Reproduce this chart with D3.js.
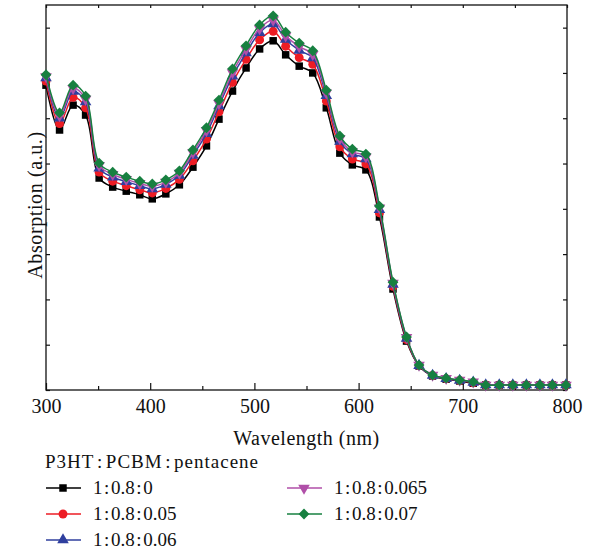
<!DOCTYPE html>
<html>
<head>
<meta charset="utf-8">
<script src="https://cdn.jsdelivr.net/npm/d3@7"></script>
<style>
  body { margin: 0; background: #fff; }
  svg { display: block; }
  text { font-family: "Liberation Serif", "DejaVu Serif", serif; fill: #111; }
</style>
</head>
<body>
<div id="chart"></div>
<script>
const wavelength = [300, 313, 326, 338, 351, 364, 377, 390, 402, 415, 428, 441, 454, 466, 479, 492, 505, 518, 530, 543,
  556, 569, 582, 594, 607, 620, 633, 646, 658, 671, 684, 697, 710, 722, 735, 748, 761, 774, 786, 799];

const s0 = [0.673, 0.574, 0.629, 0.607, 0.468, 0.448, 0.439, 0.431, 0.422, 0.433, 0.453, 0.492, 0.539, 0.598, 0.660, 0.711, 0.753, 0.771, 0.740, 0.715,
  0.700, 0.623, 0.523, 0.497, 0.486, 0.382, 0.223, 0.108, 0.053, 0.031, 0.024, 0.020, 0.015, 0.011, 0.011, 0.011, 0.011, 0.011, 0.011, 0.011];
const s005 = [0.682, 0.588, 0.646, 0.623, 0.481, 0.461, 0.451, 0.442, 0.435, 0.445, 0.465, 0.506, 0.554, 0.614, 0.679, 0.730, 0.773, 0.792, 0.759, 0.734,
  0.719, 0.638, 0.537, 0.510, 0.499, 0.391, 0.229, 0.111, 0.054, 0.032, 0.025, 0.021, 0.016, 0.011, 0.011, 0.011, 0.011, 0.011, 0.011, 0.011];
const s006 = [0.689, 0.600, 0.659, 0.636, 0.490, 0.470, 0.460, 0.451, 0.444, 0.454, 0.474, 0.518, 0.566, 0.627, 0.693, 0.744, 0.789, 0.808, 0.774, 0.750,
  0.733, 0.650, 0.549, 0.521, 0.510, 0.398, 0.233, 0.114, 0.054, 0.032, 0.025, 0.021, 0.017, 0.011, 0.011, 0.011, 0.011, 0.011, 0.011, 0.011];
const s0065 = [0.692, 0.606, 0.666, 0.642, 0.496, 0.476, 0.465, 0.456, 0.450, 0.459, 0.479, 0.524, 0.573, 0.633, 0.701, 0.752, 0.798, 0.817, 0.782, 0.758,
  0.741, 0.656, 0.555, 0.526, 0.515, 0.402, 0.236, 0.116, 0.055, 0.033, 0.026, 0.022, 0.018, 0.011, 0.011, 0.011, 0.011, 0.011, 0.011, 0.011];
const s007 = [0.696, 0.612, 0.673, 0.649, 0.501, 0.481, 0.470, 0.461, 0.455, 0.464, 0.484, 0.530, 0.579, 0.640, 0.709, 0.760, 0.806, 0.826, 0.790, 0.766,
  0.749, 0.662, 0.561, 0.532, 0.521, 0.406, 0.238, 0.117, 0.055, 0.033, 0.026, 0.022, 0.018, 0.011, 0.011, 0.011, 0.011, 0.011, 0.011, 0.011];

const seriesNames = ["1\u200A:\u200A0.8\u200A:\u200A0", "1\u200A:\u200A0.8\u200A:\u200A0.05", "1\u200A:\u200A0.8\u200A:\u200A0.06",
  "1\u200A:\u200A0.8\u200A:\u200A0.065", "1\u200A:\u200A0.8\u200A:\u200A0.07"];
const xTicks = [300, 400, 500, 600, 700, 800];

const series = [
  { name: seriesNames[0], values: s0, color: "#000000", symbol: d3.symbolSquare, size: 56, rot: 0 },
  { name: seriesNames[1], values: s005, color: "#ed1c24", symbol: d3.symbolCircle, size: 62, rot: 0 },
  { name: seriesNames[2], values: s006, color: "#2f3f9e", symbol: d3.symbolTriangle, size: 58, rot: 0 },
  { name: seriesNames[3], values: s0065, color: "#b04fa8", symbol: d3.symbolTriangle, size: 58, rot: 180 },
  { name: seriesNames[4], values: s007, color: "#178040", symbol: d3.symbolSquare, size: 58, rot: 45 }
];

const width = 590, height = 552;
const margin = { left: 46, right: 23, top: 5, bottom: 162 };
const x = d3.scaleLinear().domain([300, 800]).range([margin.left, width - margin.right]);
const y = d3.scaleLinear().domain([0, 0.85]).range([height - margin.bottom, margin.top]);

const svg = d3.select("#chart").append("svg")
  .attr("width", width).attr("height", height);

// frame
svg.append("rect")
  .attr("x", x(300)).attr("y", y(0.85))
  .attr("width", x(800) - x(300)).attr("height", y(0) - y(0.85))
  .attr("fill", "none").attr("stroke", "#111").attr("stroke-width", 1.3);

// axes, ticks pointing inward
const g = svg.append("g");
g.append("g").attr("transform", `translate(0,${y(0)})`)
  .call(d3.axisBottom(x).tickValues(d3.range(300, 801, 50)).tickSize(-6).tickFormat(""))
  .call(a => a.selectAll(".tick line").attr("y2", (d) => d % 100 === 0 ? -7 : -4));
g.append("g").attr("transform", `translate(0,${y(0)})`)
  .call(d3.axisBottom(x).tickValues(xTicks).tickSize(0).tickPadding(9))
  .call(a => a.selectAll("text").attr("font-size", 20).attr("font-family", "Liberation Serif, serif").attr("fill", "#111"));
g.append("g").attr("transform", `translate(0,${y(0.85)})`)
  .call(d3.axisTop(x).tickValues(d3.range(300, 801, 50)).tickSize(-3).tickFormat(""));
g.append("g").attr("transform", `translate(${x(300)},0)`)
  .call(d3.axisLeft(y).ticks(8).tickSize(-4).tickFormat(""));
g.append("g").attr("transform", `translate(${x(800)},0)`)
  .call(d3.axisRight(y).ticks(8).tickSize(-4).tickFormat(""));
g.selectAll(".domain").remove();
g.selectAll(".tick line").attr("stroke", "#111").attr("stroke-width", 1.2);

svg.append("text").attr("x", (x(300) + x(800)) / 2).attr("y", 445)
  .attr("text-anchor", "middle").attr("font-size", 20).attr("letter-spacing", 0.5).text("Wavelength (nm)");
svg.append("text").attr("transform", `translate(42,205) rotate(-90)`)
  .attr("text-anchor", "middle").attr("font-size", 20).attr("letter-spacing", 0.6).text("Absorption (a.u.)");

const line = d3.line().x((d, i) => x(wavelength[i])).y(d => y(d)).curve(d3.curveCatmullRom.alpha(0.5));
const sym = (s) => d3.symbol().type(s.symbol).size(s.size)();

series.forEach(s => {
  const sg = svg.append("g");
  sg.append("path").attr("d", line(s.values)).attr("fill", "none")
    .attr("stroke", s.color).attr("stroke-width", 1.5);
  sg.selectAll("path.m").data(s.values).join("path").attr("class", "m")
    .attr("d", sym(s))
    .attr("transform", (d, i) => `translate(${x(wavelength[i])},${y(d)}) rotate(${s.rot})`)
    .attr("fill", s.color);
});

// legend
const lg = svg.append("g");
lg.append("text").attr("x", 45).attr("y", 468).attr("font-size", 19).attr("letter-spacing", 1)
  .text("P3HT\u200A:\u200APCBM\u200A:\u200Apentacene");
const legPos = [[46, 488], [46, 514], [46, 540], [287, 488], [287, 514]];
series.forEach((s, i) => {
  const [lx, ly] = legPos[i];
  lg.append("line").attr("x1", lx).attr("x2", lx + 35).attr("y1", ly).attr("y2", ly)
    .attr("stroke", s.color).attr("stroke-width", 1.5);
  lg.append("path").attr("d", sym(s))
    .attr("transform", `translate(${lx + 17},${ly}) rotate(${s.rot})`).attr("fill", s.color);
  lg.append("text").attr("x", lx + 47).attr("y", ly + 6).attr("font-size", 19).text(s.name);
});
</script>
</body>
</html>
